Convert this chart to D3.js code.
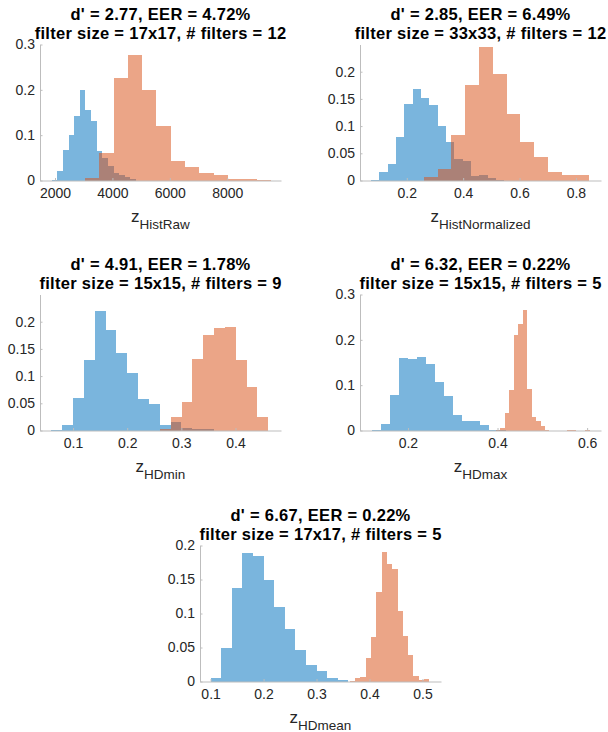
<!DOCTYPE html>
<html>
<head>
<meta charset="utf-8">
<script src="https://cdn.jsdelivr.net/npm/d3@7/dist/d3.min.js"></script>
<style>
    body { margin: 0; background: #fff; }
    svg { display: block; }
    text { font-family: "Liberation Sans", Arial, Helvetica, sans-serif; }
</style>
</head>
<body>
<svg id="fig" width="608" height="732"></svg>
<script>
// panel titles (two lines each) and x label subscripts
var titleTop = ["d' = 2.77, EER = 4.72%", "d' = 2.85, EER = 6.49%", "d' = 4.91, EER = 1.78%",
                "d' = 6.32, EER = 0.22%", "d' = 6.67, EER = 0.22%"];
var titleBottom = ["filter size = 17x17, # filters = 12", "filter size = 33x33, # filters = 12",
                   "filter size = 15x15, # filters = 9", "filter size = 15x15, # filters = 5",
                   "filter size = 17x17, # filters = 5"];
var xSub = ["HistRaw", "HistNormalized", "HDmin", "HDmax", "HDmean"];

// axis limits and ticks
var xLims = [[1477, 9874], [0.034, 0.889], [0.039, 0.484], [0.093, 0.631], [0.08, 0.535]];
var yLims = [[0, 0.3], [0, 0.25], [0, 0.25], [0, 0.3], [0, 0.2]];
var xTicks = [[2000, 4000, 6000, 8000], [0.2, 0.4, 0.6, 0.8], [0.1, 0.2, 0.3, 0.4],
              [0.2, 0.4, 0.6], [0.1, 0.2, 0.3, 0.4, 0.5]];
var yTicks = [[0, 0.1, 0.2, 0.3], [0, 0.05, 0.1, 0.15, 0.2], [0, 0.05, 0.1, 0.15, 0.2],
              [0, 0.1, 0.2, 0.3], [0, 0.05, 0.1, 0.15, 0.2]];

// histogram bins: first edge, bin width, probability per bin
// blue = genuine, orange = impostor
var blueStart = [1884, 0.073, 0.06, 0.12, 0.1];
var blueWidth = [196, 0.0296, 0.02, 0.02, 0.02];
var blue1 = [0.002, 0.021, 0.067, 0.101, 0.143, 0.199, 0.156, 0.131, 0.065, 0.049, 0.032, 0.016, 0.012, 0.007, 0.003];
var blue2 = [0.001, 0.0154, 0.030, 0.080, 0.140, 0.169, 0.151, 0.139, 0.1006, 0.070, 0.039, 0.035, 0.009, 0.010, 0.004, 0.001];
var blue3 = [0.001, 0.0104, 0.0589, 0.1288, 0.2196, 0.184, 0.143, 0.106, 0.0577, 0.048, 0.011, 0.016, 0.0055, 0.002, 0.002];
var blue4 = [0.0022, 0.0148, 0.0778, 0.1607, 0.1585, 0.1622, 0.1474, 0.1067, 0.0756, 0.034, 0.020, 0.020, 0.0126, 0.001, 0.001];
var blue5 = [0.005, 0.0495, 0.1376, 0.1896, 0.1847, 0.149, 0.11, 0.0772, 0.0465, 0.0248, 0.0149, 0.005, 0.0025];

var orangeStart = [3045, 0.26, 0.2605, 0.396, 0.363];
var orangeWidth = [498, 0.049, 0.02, 0.01, 0.01];
var orange1 = [0.005, 0.06, 0.226, 0.276, 0.2007, 0.1207, 0.042, 0.030, 0.017, 0.012, 0.0044, 0.0037, 0.0015];
var orange2 = [0.0056, 0.022, 0.084, 0.1747, 0.246, 0.196, 0.123, 0.071, 0.044, 0.0148, 0.0105, 0.0105];
var orange3 = [0.002, 0.024, 0.053, 0.1307, 0.176, 0.189, 0.1908, 0.1288, 0.0798, 0.0245];
var orange4 = [0.002, 0.005, 0.038, 0.0896, 0.2096, 0.2348, 0.266, 0.091, 0.0304, 0.0207, 0.0096, 0.0015,
               0, 0, 0, 0, 0.0008, 0.0008, 0, 0, 0.0008];
var orange5 = [0.001, 0.0054, 0.006, 0.035, 0.066, 0.1317, 0.1906, 0.1728, 0.1658, 0.1035, 0.0663, 0.0396, 0.0074, 0.0025, 0.004];

var blues = [blue1, blue2, blue3, blue4, blue5];
var oranges = [orange1, orange2, orange3, orange4, orange5];

(function() {
    var svg = d3.select("#fig");

    // axes boxes: left, top (pixel layout of the subplot grid)
    var boxes = [[40, 44.5], [360, 44.5], [40, 294.5], [360, 294.5], [200, 545.5]],
        axW = 241,
        axH = 136,
        blueCol = "rgb(0,114,189)",
        orangeCol = "rgb(217,83,25)",
        faceAlpha = 0.52,
        axisCol = "#bdbdbd",
        tickCol = "#262626";

    function bins(start, width, vals) {
        return vals.map(function(v, i) {
            return { x0: start + i * width, x1: start + (i + 1) * width, v: v };
        }).filter(function(d) { return d.v > 0; });
    }

    boxes.forEach(function(b, p) {
        var g = svg.append("g").attr("transform", "translate(" + b[0] + "," + b[1] + ")");

        var x = d3.scaleLinear().domain(xLims[p]).range([0, axW]),
            y = d3.scaleLinear().domain(yLims[p]).range([axH, 0]);

        // histograms, blue first so orange sits on top (overlap turns brown)
        [[bins(blueStart[p], blueWidth[p], blues[p]), blueCol],
         [bins(orangeStart[p], orangeWidth[p], oranges[p]), orangeCol]].forEach(function(h) {
            var hg = g.append("g").attr("fill-opacity", faceAlpha);
            hg.selectAll("rect")
                .data(h[0])
                .enter().append("rect")
                    .attr("x", function(d) { return x(d.x0); })
                    .attr("width", function(d) { return x(d.x1) - x(d.x0); })
                    .attr("y", function(d) { return y(d.v); })
                    .attr("height", function(d) { return axH - y(d.v); })
                    .attr("fill", h[1])
                    .attr("shape-rendering", "crispEdges");
        });

        // x axis, ticks pointing inwards like matlab
        var xa = g.append("g")
            .attr("transform", "translate(0," + axH + ")")
            .call(d3.axisBottom(x).tickValues(xTicks[p]).tickFormat(String)
                .tickSizeInner(-2.5).tickSizeOuter(0).tickPadding(8));

        var ya = g.append("g")
            .call(d3.axisLeft(y).tickValues(yTicks[p]).tickFormat(String)
                .tickSizeInner(-2.5).tickSizeOuter(0).tickPadding(5));

        [xa, ya].forEach(function(a) {
            a.select(".domain").attr("stroke", axisCol);
            a.selectAll(".tick line").attr("stroke", axisCol);
            a.selectAll(".tick text")
                .attr("fill", tickCol)
                .style("font-size", "14px")
                .style("font-family", "'Liberation Sans', Arial, sans-serif");
        });

        // two line bold title
        var t = g.append("text")
            .attr("x", axW / 2)
            .attr("text-anchor", "middle")
            .attr("fill", "#000")
            .style("font-weight", "bold")
            .style("font-size", "16.5px")
            .style("letter-spacing", "0.3px");
        t.append("tspan").attr("x", axW / 2).attr("y", -25).text(titleTop[p]);
        t.append("tspan").attr("x", axW / 2).attr("y", -5.5).text(titleBottom[p]);

        // z with subscript
        var xl = g.append("text")
            .attr("x", axW / 2)
            .attr("y", axH + 41)
            .attr("text-anchor", "middle")
            .attr("fill", tickCol);
        xl.append("tspan").style("font-size", "17px").text("z");
        xl.append("tspan").attr("dy", 7).style("font-size", "13.5px").text(xSub[p]);
    });

})();
</script>
</body>
</html>
